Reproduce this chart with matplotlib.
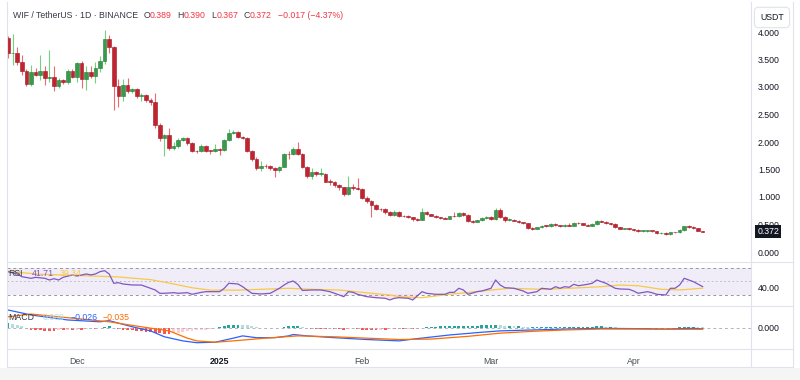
import numpy as np
import pandas as pd
import matplotlib
matplotlib.use("Agg")
import matplotlib.pyplot as plt
import matplotlib.dates as mdates
from matplotlib.transforms import blended_transform_factory
from matplotlib.lines import Line2D
from matplotlib.patches import Rectangle

plt.rcParams['font.family'] = ['Liberation Sans', 'DejaVu Sans']

# ---------- DATA (daily WIF/USDT, 2024-11-16 .. 2025-04-16) ----------
first_date = "2024-11-16"
first_open = 3.90

closes = [3.61, 3.62, 3.46, 3.30, 3.05, 3.27, 3.22, 3.29, 3.17, 3.18,
          3.02, 3.12, 3.09, 3.30, 3.19, 3.44, 3.14, 3.27, 3.20, 3.34,
          3.48, 3.87, 3.72, 3.02, 2.84, 3.03, 2.93, 2.96, 2.84, 2.86,
          2.76, 2.73, 2.31, 2.07, 2.12, 1.89, 1.93, 2.04, 2.07, 1.98,
          1.84, 1.83, 1.93, 1.84, 1.835, 1.88, 1.86, 2.04, 2.17, 2.19,
          2.10, 2.07, 1.84, 1.70, 1.52, 1.57, 1.56, 1.53, 1.49, 1.55,
          1.78, 1.775, 1.88, 1.78, 1.54, 1.38, 1.45, 1.42, 1.42, 1.28,
          1.27, 1.21, 1.18, 1.05, 1.18, 1.16, 1.14, 0.99, 0.93, 0.85,
          0.78, 0.775, 0.72, 0.67, 0.72, 0.66, 0.65, 0.63, 0.60, 0.59,
          0.73, 0.69, 0.66, 0.63, 0.61, 0.605, 0.65, 0.648, 0.71, 0.68,
          0.56, 0.55, 0.58, 0.61, 0.64, 0.60, 0.76, 0.64, 0.58, 0.59,
          0.57, 0.54, 0.52, 0.43, 0.42, 0.45, 0.48, 0.47, 0.51, 0.49,
          0.47, 0.49, 0.48, 0.53, 0.52, 0.50, 0.48, 0.51, 0.57, 0.55,
          0.52, 0.51, 0.45, 0.42, 0.43, 0.41, 0.40, 0.38, 0.385, 0.385,
          0.38, 0.34, 0.35, 0.32, 0.36, 0.358, 0.40, 0.47, 0.45, 0.43,
          0.389, 0.372]

highs = [3.93, 3.96, 3.73, 3.58, 3.32, 3.40, 3.34, 3.59, 3.38, 3.67,
         3.38, 3.17, 3.14, 3.33, 3.32, 3.46, 3.48, 3.38, 3.38, 3.45,
         3.56, 4.04, 3.94, 3.74, 3.14, 3.14, 3.17, 2.99, 2.98, 2.89,
         2.88, 2.80, 2.89, 2.34, 2.15, 2.25, 2.00, 2.08, 2.10, 2.09,
         2.00, 1.86, 1.97, 1.94, 1.86, 1.96, 1.90, 2.06, 2.24, 2.22,
         2.20, 2.11, 2.09, 1.86, 1.72, 1.66, 1.60, 1.58, 1.55, 1.57,
         1.80, 1.84, 1.91, 2.00, 1.80, 1.56, 1.52, 1.47, 1.52, 1.44,
         1.32, 1.29, 1.23, 1.19, 1.38, 1.24, 1.34, 1.16, 1.01, 0.95,
         0.88, 0.80, 0.80, 0.74, 0.76, 0.74, 0.68, 0.67, 0.64, 0.61,
         0.80, 0.74, 0.70, 0.67, 0.64, 0.63, 0.66, 0.72, 0.73, 0.72,
         0.69, 0.58, 0.59, 0.63, 0.66, 0.66, 0.80, 0.80, 0.65, 0.62,
         0.60, 0.58, 0.55, 0.53, 0.45, 0.46, 0.49, 0.50, 0.52, 0.52,
         0.50, 0.51, 0.52, 0.54, 0.55, 0.53, 0.51, 0.52, 0.59, 0.59,
         0.57, 0.53, 0.52, 0.46, 0.44, 0.44, 0.42, 0.41, 0.40, 0.40,
         0.39, 0.39, 0.36, 0.36, 0.37, 0.37, 0.41, 0.48, 0.49, 0.47,
         0.44, 0.390]

lows = [3.52, 3.40, 3.40, 3.22, 3.02, 3.01, 3.20, 3.13, 3.04, 3.10,
        2.93, 2.98, 3.06, 3.05, 3.16, 3.10, 2.98, 2.95, 3.16, 3.08,
        3.28, 3.42, 3.62, 2.58, 2.64, 2.75, 2.90, 2.90, 2.80, 2.74,
        2.72, 2.68, 2.26, 2.02, 1.75, 1.86, 1.85, 1.90, 2.01, 1.95,
        1.82, 1.80, 1.81, 1.82, 1.79, 1.82, 1.76, 1.84, 2.02, 2.14,
        2.08, 2.05, 1.82, 1.66, 1.49, 1.47, 1.52, 1.50, 1.37, 1.46,
        1.54, 1.70, 1.76, 1.76, 1.52, 1.35, 1.33, 1.38, 1.38, 1.27,
        1.22, 1.19, 1.12, 1.02, 1.04, 1.13, 1.12, 0.97, 0.90, 0.64,
        0.76, 0.75, 0.70, 0.65, 0.66, 0.64, 0.63, 0.62, 0.57, 0.57,
        0.58, 0.68, 0.65, 0.62, 0.60, 0.60, 0.60, 0.63, 0.64, 0.66,
        0.55, 0.53, 0.54, 0.57, 0.60, 0.59, 0.59, 0.62, 0.55, 0.57,
        0.56, 0.53, 0.51, 0.42, 0.40, 0.41, 0.44, 0.46, 0.46, 0.48,
        0.46, 0.46, 0.47, 0.47, 0.51, 0.49, 0.47, 0.47, 0.50, 0.54,
        0.51, 0.50, 0.44, 0.41, 0.41, 0.40, 0.39, 0.37, 0.37, 0.37,
        0.37, 0.33, 0.33, 0.31, 0.31, 0.35, 0.35, 0.39, 0.44, 0.42,
        0.38, 0.367]

# RSI(14): (day index, value)
rsi_points = [(0, 63.8), (2, 60.4), (3, 56.4), (5, 54), (6, 55.4), (8, 54), (9, 51.5),
              (10, 53.4), (11, 51.5), (12, 55.5), (14, 58.9), (15, 57.4), (17, 60.4),
              (18, 59), (19, 60.4), (20, 63.8), (21, 65.3), (22, 60.4), (23, 46.6),
              (24, 47.5), (25, 45.6), (27, 44.1), (29, 44), (30, 41.6), (32, 36.7),
              (33, 31.8), (34, 31.8), (36, 32.7), (37, 31.8), (39, 32.7), (40, 30.3),
              (42, 33.2), (43, 34.2), (44, 34.2), (46, 34.2), (47, 39.1), (48, 46.6),
              (50, 45.6), (51, 41.6), (52, 36.7), (53, 31.8), (55, 30.8), (57, 31.8),
              (59, 39.2), (60, 44), (61, 48), (62, 50), (63, 45), (64, 36), (66, 36.7),
              (68, 36.7), (70, 34.2), (71, 31.8), (73, 26.8), (74, 34.2), (75, 33.2),
              (76, 30.3), (78, 26.8), (80, 25.3), (82, 24.4), (83, 21.9), (84, 24.4),
              (85, 25.3), (87, 24.4), (88, 21.9), (90, 34.2), (91, 31.8), (93, 30.3),
              (95, 30.3), (96, 33.2), (97, 33.2), (98, 39.2), (99, 36.7), (100, 30.3),
              (102, 34.2), (103, 35.2), (105, 39.2), (106, 51.5), (107, 44), (108, 40.1),
              (110, 39.2), (112, 35.2), (113, 31.8), (115, 34.2), (116, 39.2), (118, 37.7),
              (119, 41.6), (120, 39.2), (121, 41.6), (122, 40.7), (123, 45.1), (124, 43),
              (126, 45.1), (127, 46.6), (128, 51.5), (129, 49), (130, 46.6), (132, 39.2),
              (133, 38.2), (135, 37.7), (136, 35.2), (137, 31.8), (139, 34.2), (140, 32.7),
              (141, 30.3), (143, 29.3), (144, 39.2), (145, 39.2), (146, 44), (147, 54),
              (148, 51.5), (149, 49), (151, 41.71)]

rsi_ma_points = [(0, 64), (7, 60), (16, 58), (24, 56), (31, 52), (35, 47), (40, 40),
                 (44, 36.5), (50, 36.5), (55, 37.7), (61, 39.2), (66, 37.7), (72, 36.7),
                 (77, 33.2), (83, 29.3), (85, 26.8), (90, 25.3), (96, 30.3), (103, 35.2),
                 (109, 39.2), (116, 37.7), (122, 39.2), (129, 41.6), (133, 44), (137, 43),
                 (142, 37.7), (146, 36.7), (151, 39.34)]

macd_points = [(0, 0.39), (5, 0.28), (13, 0.17), (20, 0.13), (22, 0.155), (27, 0.02),
               (31, -0.07), (34, -0.20), (38, -0.29), (41, -0.33), (45, -0.32), (49, -0.23),
               (51, -0.18), (54, -0.22), (58, -0.22), (61, -0.18), (62, -0.15), (65, -0.18),
               (71, -0.22), (78, -0.26), (85, -0.29), (89, -0.24), (96, -0.16), (103, -0.10),
               (107, -0.07), (114, -0.05), (121, -0.03), (129, -0.014), (136, -0.02),
               (143, -0.03), (149, -0.014), (151, -0.026)]

signal_points = [(0, 0.24), (5, 0.30), (13, 0.22), (22, 0.13), (29, 0.02), (35, -0.07),
                 (39, -0.23), (41, -0.29), (45, -0.32), (49, -0.29), (56, -0.23), (63, -0.18),
                 (71, -0.20), (78, -0.23), (85, -0.26), (92, -0.25), (100, -0.19), (107, -0.12),
                 (114, -0.08), (121, -0.05), (129, -0.03), (136, -0.03), (143, -0.036),
                 (151, -0.035)]

hist = [0.11, 0.09, 0.06, 0.03,
        -0.02, -0.04, -0.05, -0.06, -0.07, -0.07, -0.07, -0.06, -0.06,
        -0.05, -0.05, -0.04, -0.04, -0.03, -0.02, -0.02, -0.01,
        0.02, 0.03,
        -0.01, -0.03, -0.04, -0.05, -0.06, -0.07, -0.08, -0.09, -0.10, -0.11, -0.12, -0.13, -0.13,
        -0.12, -0.11, -0.10, -0.08, -0.07, -0.06, -0.05, -0.04, -0.03, -0.01,
        0.01, 0.03, 0.05, 0.07, 0.07, 0.06, 0.05,
        0.03, 0.01, 0.0, -0.01, -0.01, -0.01, 0.0,
        0.02, 0.03, 0.04, 0.04,
        0.02, -0.01, -0.02, -0.02, -0.02, -0.03, -0.03, -0.03, -0.03, -0.04, -0.03,
        -0.03, -0.03, -0.04, -0.04, -0.05, -0.05, -0.04, -0.04, -0.03, -0.03, -0.03,
        -0.03, -0.02, -0.02, -0.02,
        0.0, 0.01, 0.02, 0.02, 0.03, 0.03, 0.04, 0.04, 0.04, 0.04, 0.04, 0.04, 0.04,
        0.05, 0.05, 0.05, 0.06, 0.05,
        0.04, 0.04, 0.03, 0.03, 0.02, 0.01, 0.01, 0.01, 0.02, 0.02, 0.02, 0.02, 0.02,
        0.02, 0.02, 0.02, 0.02, 0.02, 0.02, 0.02, 0.03, 0.03, 0.02, 0.02,
        0.01, 0.0, -0.01, -0.01, -0.01, -0.02, -0.02, -0.02, -0.01, -0.01, -0.01, -0.01, -0.01,
        0.0, 0.01, 0.02, 0.02, 0.02, 0.01, 0.008]

price_ticks = [0.0, 0.5, 1.0, 1.5, 2.0, 2.5, 3.0, 3.5, 4.0]
month_starts = ["2024-12-01", "2025-01-01", "2025-02-01", "2025-03-01", "2025-04-01"]
month_labels = ["Dec", "2025", "Feb", "Mar", "Apr"]

# ---------- COLORS ----------
UP_BODY, UP_EDGE, UP_WICK = '#3a9a4c', '#237a33', '#6fd47e'
DN_BODY, DN_EDGE, DN_WICK = '#c1232f', '#9c1722', '#ec6b73'
RED_TXT = '#f23645'
TXT = '#131722'
GRID = '#e0e3eb'

W, H = 800, 380
fig = plt.figure(figsize=(W / 100, H / 100), dpi=100)
fig.patch.set_facecolor('white')


def panel(top, bottom, left=7, right=751):
    return fig.add_axes([left / W, 1 - bottom / H, (right - left) / W, (bottom - top) / H])


def fpos(px, py):
    return px / W, 1 - py / H


dates = pd.date_range(first_date, periods=len(closes), freq="D")
x = mdates.date2num(dates)
opens = [first_open] + closes[:-1]   # 24/7 market: open = previous close
x0 = x[0]
xlim = (x0 - 1 / 4.6, x0 + 743 / 4.6)

ax_p = panel(0, 262)
ax_r = panel(262, 306)
ax_m = panel(306, 349)

for ax in (ax_p, ax_r, ax_m):
    ax.set_xlim(*xlim)
    ax.set_facecolor('none')
    for s in ax.spines.values():
        s.set_visible(False)
    ax.yaxis.tick_right()
    ax.tick_params(axis='y', length=0, pad=5, labelsize=6.3, labelcolor=TXT)
    ax.tick_params(axis='x', length=0)
    ax.set_xticks([])

# ---------- CANDLES ----------
o = np.array(opens)
c = np.array(closes)
up = c >= o
wick_cols = [UP_WICK if u else DN_WICK for u in up]
body_cols = [UP_BODY if u else DN_BODY for u in up]
edge_cols = [UP_EDGE if u else DN_EDGE for u in up]
ax_p.vlines(x, lows, highs, colors=wick_cols, linewidth=0.8, zorder=2)
bottoms = np.minimum(o, c)
heights = np.maximum(np.abs(c - o), 0.012)
ax_p.bar(x, heights, bottom=bottoms, width=0.74, color=body_cols,
         edgecolor=edge_cols, linewidth=0.4, zorder=3)

ax_p.set_ylim(-10 / 55, 252 / 55)
ax_p.set_yticks(price_ticks)
ax_p.set_yticklabels([f"{v:.3f}" for v in price_ticks])

tr = blended_transform_factory(ax_p.transAxes, ax_p.transData)
ax_p.text(1.0085, closes[-1], f"{closes[-1]:.3f}", transform=tr, ha='left', va='center',
          fontsize=6.3, color='white', zorder=10, clip_on=False,
          bbox=dict(boxstyle='square,pad=0.25', fc='#131722', ec='none'))

# ---------- RSI ----------
ri = [p[0] for p in rsi_points]
rv = [p[1] for p in rsi_points]
mi = [p[0] for p in rsi_ma_points]
mv = [p[1] for p in rsi_ma_points]
ax_r.set_ylim(50 - 25 / 0.675, 50 + 19 / 0.675)
ax_r.axhspan(30, 70, color='#7e57c2', alpha=0.1, lw=0)
ax_r.axhline(70, color='#9598a1', lw=0.7, ls=(0, (3, 3)))
ax_r.axhline(50, color='#b2b5be', lw=0.6, ls=(0, (2, 3)))
ax_r.axhline(30, color='#9598a1', lw=0.7, ls=(0, (3, 3)))
rx = x0 + np.array(ri)
ax_r.fill_between(rx, rv, 30, where=np.array(rv) < 30, interpolate=True,
                  color='#f23645', alpha=0.12, lw=0)
ax_r.plot(x0 + np.array(mi), mv, color='#f7c948', lw=0.9)
ax_r.plot(rx, rv, color='#7e57c2', lw=0.9)
ax_r.set_yticks([40])
ax_r.set_yticklabels(["40.00"])

# ---------- MACD ----------
scale = 0.022
ax_m.set_ylim(-(349 - 327.7) * scale, (327.7 - 306) * scale)
ax_m.axhline(0, color='#b2b5be', lw=0.7, ls=(0, (3, 3)))
h = np.array(hist)
prev = np.concatenate([[h[0]], h[:-1]])
hcols = []
for hv, pv in zip(h, prev):
    if hv >= 0:
        hcols.append('#26a69a' if hv >= pv else '#b2dfdb')
    else:
        hcols.append('#ffcdd2' if hv > pv else '#ff5252')
ax_m.bar(x, h, width=0.65, color=hcols, lw=0)
ax_m.plot(x0 + np.array([p[0] for p in macd_points]), [p[1] for p in macd_points],
          color='#2962ff', lw=0.9)
ax_m.plot(x0 + np.array([p[0] for p in signal_points]), [p[1] for p in signal_points],
          color='#ff6d00', lw=0.9)
ax_m.set_yticks([0])
ax_m.set_yticklabels(["0.000"])

ticks = mdates.date2num(pd.to_datetime(month_starts))
ax_m.set_xticks(ticks)
ax_m.set_xticklabels(month_labels)
ax_m.tick_params(axis='x', length=0, pad=5.5, labelsize=6.3, labelcolor='#4a4d57')
for lbl in ax_m.get_xticklabels():
    if lbl.get_text() == "2025":
        lbl.set_fontweight('bold')
        lbl.set_color(TXT)

# ---------- FRAME LINES ----------
for yy in (262, 306, 349, 367):
    fig.add_artist(Line2D([7 / W, 793 / W], [1 - yy / H] * 2, color=GRID, lw=0.8))
for xx in (7, 751, 793):
    fig.add_artist(Line2D([xx / W] * 2, [1 - 367 / H, 1 - 2 / H], color=GRID, lw=0.8))
fig.add_artist(Rectangle((0, 0), 1, 1 - 368 / H, transform=fig.transFigure,
                         color='#f5f5f5', lw=0, zorder=-1))

# ---------- LEGENDS ----------
fs = 6.3
hdr = [("WIF / TetherUS · 1D · BINANCE", 13, '#363a45'),
       ("O", 144, '#363a45'), ("0.389", 150, RED_TXT),
       ("H", 177.5, '#363a45'), ("0.390", 183.5, RED_TXT),
       ("L", 211.5, '#363a45'), ("0.367", 216.5, RED_TXT),
       ("C", 244, '#363a45'), ("0.372", 250, RED_TXT),
       ("\u22120.017 (\u22124.37%)", 277.5, RED_TXT)]
for t, px, col in hdr:
    fig.text(*fpos(px, 15.5), t, fontsize=fs, color=col, ha='left', va='center')

for t, px, col in [("RSI", 8, '#363a45'), ("41.71", 32, '#7e57c2'), ("39.34", 60, '#f7c948')]:
    fig.text(*fpos(px, 274), t, fontsize=fs, color=col, ha='left', va='center')

for t, px, col in [("MACD", 8, '#363a45'), ("0.008", 43, '#b2dfdb'),
                   ("\u22120.026", 71, '#2962ff'), ("\u22120.035", 103, '#ff6d00')]:
    fig.text(*fpos(px, 317.5), t, fontsize=fs, color=col, ha='left', va='center')

fig.text(*fpos(772, 17.5), "USDT", fontsize=6.3, color=TXT, ha='center', va='center',
         zorder=20, bbox=dict(boxstyle='round,pad=0.65,rounding_size=0.45', fc='white', ec=GRID, lw=0.8))

fig.savefig("out.png", dpi=100)
